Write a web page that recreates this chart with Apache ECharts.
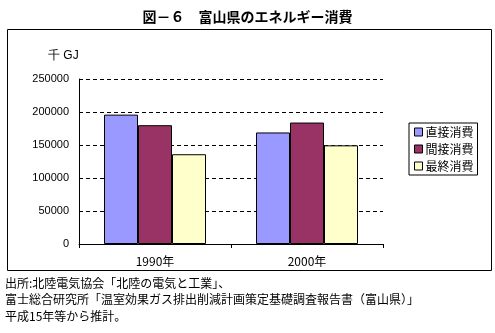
<!DOCTYPE html>
<html><head><meta charset="utf-8">
<script src="https://cdn.jsdelivr.net/npm/echarts@6/dist/echarts.min.js"></script>
<style>html,body{margin:0;padding:0;background:#fff}#c{width:495px;height:333px}</style>
</head><body><div id="c"></div>
<script>
const categories = ['1990年', '2000年'];
const seriesNames = ['直接消費', '間接消費', '最終消費'];
const direct = [196000, 169000];
const indirect = [180000, 184000];
const finalUse = [136000, 149500];
const yTicks = [0, 50000, 100000, 150000, 200000, 250000];
const title = '図－６　富山県のエネルギー消費';
const unit = '千 GJ';
const notes = [
  '出所:北陸電気協会「北陸の電気と工業」、',
  '富士総合研究所「温室効果ガス排出削減計画策定基礎調査報告書（富山県）」',
  '平成15年等から推計。'
];
const colors = ['#9999FF', '#993366', '#FFFFCC'];
const values = [direct, indirect, finalUse];
const FONT = '"Noto Sans CJK JP", "Liberation Sans", sans-serif';

const chart = echarts.init(document.getElementById('c'), null, {renderer: 'canvas'});
chart.setOption({
  animation: false,
  textStyle: {fontFamily: FONT},
  title: {
    text: title, left: 'center', top: 5,
    textStyle: {fontSize: 14, fontWeight: 'bold', color: '#000', fontFamily: FONT}
  },
  grid: {left: 79, top: 79, right: 112, bottom: 89, containLabel: false},
  legend: {
    orient: 'vertical', left: 409, top: 123,
    padding: [3, 4, 3, 5], itemGap: 5,
    itemWidth: 8, itemHeight: 8,
    borderColor: '#000', borderWidth: 1,
    icon: 'rect',
    itemStyle: {borderColor: '#000', borderWidth: 1},
    textStyle: {fontSize: 12, color: '#000', fontFamily: FONT, padding: [0, 0, 0, -2]},
    data: seriesNames
  },
  xAxis: {
    type: 'category', data: categories,
    axisLine: {lineStyle: {color: '#000', width: 1}},
    axisTick: {show: true, length: 4, lineStyle: {color: '#000'}},
    axisLabel: {fontSize: 12, color: '#000', margin: 11, fontFamily: FONT}
  },
  yAxis: {
    type: 'value', min: 0, max: 250000, interval: 50000,
    axisLine: {show: true, lineStyle: {color: '#000', width: 1}},
    axisTick: {show: false},
    axisLabel: {fontSize: 11, color: '#000', margin: 10, fontFamily: '"Liberation Sans", sans-serif',
      formatter: v => yTicks.includes(v) ? String(v) : ''},
    splitLine: {lineStyle: {color: '#000', type: [4, 3], width: 1}}
  },
  series: seriesNames.map((n, i) => ({
    name: n, type: 'bar', data: values[i],
    barWidth: 34, barGap: '0%',
    itemStyle: {color: colors[i], borderColor: '#000', borderWidth: 1}
  })),
  graphic: [
    {type: 'rect', shape: {x: 7.5, y: 29.5, width: 484, height: 241},
     style: {fill: 'none', stroke: '#000', lineWidth: 1}, silent: true, z: -1},
    {type: 'text', x: 48, y: 56,
     style: {text: unit, fontSize: 12, fill: '#000', font: '12px ' + FONT, textVerticalAlign: 'middle'}},
    ...notes.map((t, i) => ({
      type: 'text', x: 5, y: 283 + i * 16.5,
      style: {text: t, fill: '#000', font: '12px ' + FONT, textVerticalAlign: 'middle'}
    }))
  ]
});
</script></body></html>
